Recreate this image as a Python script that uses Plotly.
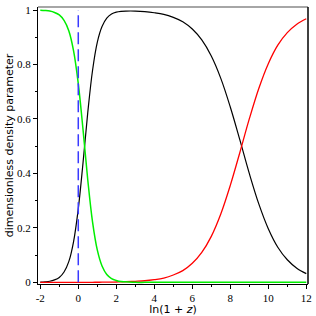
import plotly.graph_objects as go

# ln(1+z) sample positions
x_vals = [-2, -1.75, -1.5, -1.25, -1, -0.75, -0.5, -0.25, 0, 0.25, 0.5, 0.75, 1,
          1.25, 1.5, 1.75, 2, 2.25, 2.5, 3, 3.5, 4, 4.5, 5, 5.5, 6, 6.5, 7, 7.5,
          8, 8.5, 9, 9.5, 10, 10.5, 11, 11.5, 12]

# green curve (dark energy)
lambda_vals = [0.999, 0.998, 0.996, 0.991, 0.982, 0.962, 0.924, 0.851, 0.730, 0.561,
               0.376, 0.222, 0.119, 0.060, 0.029, 0.014, 0.007, 0.003, 0.002, 0.0,
               0.0, 0.0, 0.0, 0.0, 0.0, 0.0, 0.0, 0.0, 0.0, 0.0, 0.0, 0.0, 0.0,
               0.0, 0.0, 0.0, 0.0, 0.0]

# black curve (matter)
matter_vals = [0.001, 0.002, 0.004, 0.009, 0.018, 0.038, 0.076, 0.149, 0.270, 0.439,
               0.624, 0.778, 0.881, 0.939, 0.970, 0.985, 0.992, 0.995, 0.996, 0.996,
               0.994, 0.990, 0.984, 0.973, 0.957, 0.930, 0.890, 0.831, 0.749, 0.644,
               0.524, 0.400, 0.288, 0.197, 0.129, 0.083, 0.052, 0.032]

# red curve (radiation)
radiation_vals = [0.0, 0.0, 0.0, 0.0, 0.0, 0.0, 0.0, 0.0, 0.0001, 0.0001,
                  0.0002, 0.0003, 0.0004, 0.0006, 0.0008, 0.0011, 0.0014, 0.0018, 0.0023, 0.004,
                  0.006, 0.010, 0.016, 0.027, 0.043, 0.070, 0.110, 0.169, 0.251, 0.356,
                  0.476, 0.600, 0.712, 0.803, 0.871, 0.917, 0.948, 0.968]

today_x = [0, 0]
today_y = [0, 1]

x_ticks = [-2, 0, 2, 4, 6, 8, 10, 12]
x_tick_text = ["-2", "0", "2", "4", "6", "8", "10", "12"]
y_ticks = [0, 0.2, 0.4, 0.6, 0.8, 1]
y_tick_text = ["0", "0.2", "0.4", "0.6", "0.8", "1"]

fig = go.Figure()
fig.add_trace(go.Scatter(x=x_vals, y=matter_vals, mode="lines", hoverinfo="skip",
                         line=dict(color="black", width=1.2, shape="spline")))
fig.add_trace(go.Scatter(x=x_vals, y=radiation_vals, mode="lines", hoverinfo="skip",
                         line=dict(color="#ff0000", width=1.3, shape="spline")))
fig.add_trace(go.Scatter(x=x_vals, y=lambda_vals, mode="lines", hoverinfo="skip",
                         line=dict(color="#00ee00", width=1.5, shape="spline")))
fig.add_trace(go.Scatter(x=today_x, y=today_y, mode="lines", hoverinfo="skip",
                         line=dict(color="#3a3aff", width=1.5, dash="12px,5px")))

tick_font = dict(family="Liberation Serif", size=11, color="black")

fig.update_layout(
    width=316, height=316,
    margin=dict(l=38, r=8, t=7, b=32),
    paper_bgcolor="white", plot_bgcolor="white",
    showlegend=False,
    xaxis=dict(range=[-2.12, 12.09], tickvals=x_ticks, ticktext=x_tick_text,
               automargin=False,
               ticks="outside", ticklen=4, tickcolor="black", tickfont=tick_font,
               showline=True, linecolor="black", linewidth=1, showgrid=False,
               zeroline=False,
               minor=dict(dtick=1, ticks="outside", ticklen=2, tickcolor="black"),
               title=dict(text="ln(1 + <i>z</i>)", standoff=0,
                          font=dict(family="DejaVu Sans", size=11, color="black"))),
    yaxis=dict(range=[-0.006, 1.011], tickvals=y_ticks, ticktext=y_tick_text,
               automargin=False,
               ticks="outside", ticklen=4, tickcolor="black", tickfont=tick_font,
               showline=True, linecolor="black", linewidth=1, showgrid=False,
               zeroline=False,
               minor=dict(dtick=0.1, ticks="outside", ticklen=2, tickcolor="black"),
               title=dict(text="dimensionless density parameter", standoff=1,
                          font=dict(family="DejaVu Sans", size=11, color="black"))),
    shapes=[
        dict(type="line", xref="paper", yref="paper", x0=0, x1=1, y0=1, y1=1,
             line=dict(color="#888888", width=1.5)),
        dict(type="line", xref="paper", yref="paper", x0=1, x1=1, y0=0, y1=1,
             line=dict(color="black", width=1.5)),
    ],
)

fig.write_html("out.html",
               config={"displayModeBar": False, "staticPlot": True},
               post_script="document.body.style.margin='0';document.body.style.overflow='hidden';")
